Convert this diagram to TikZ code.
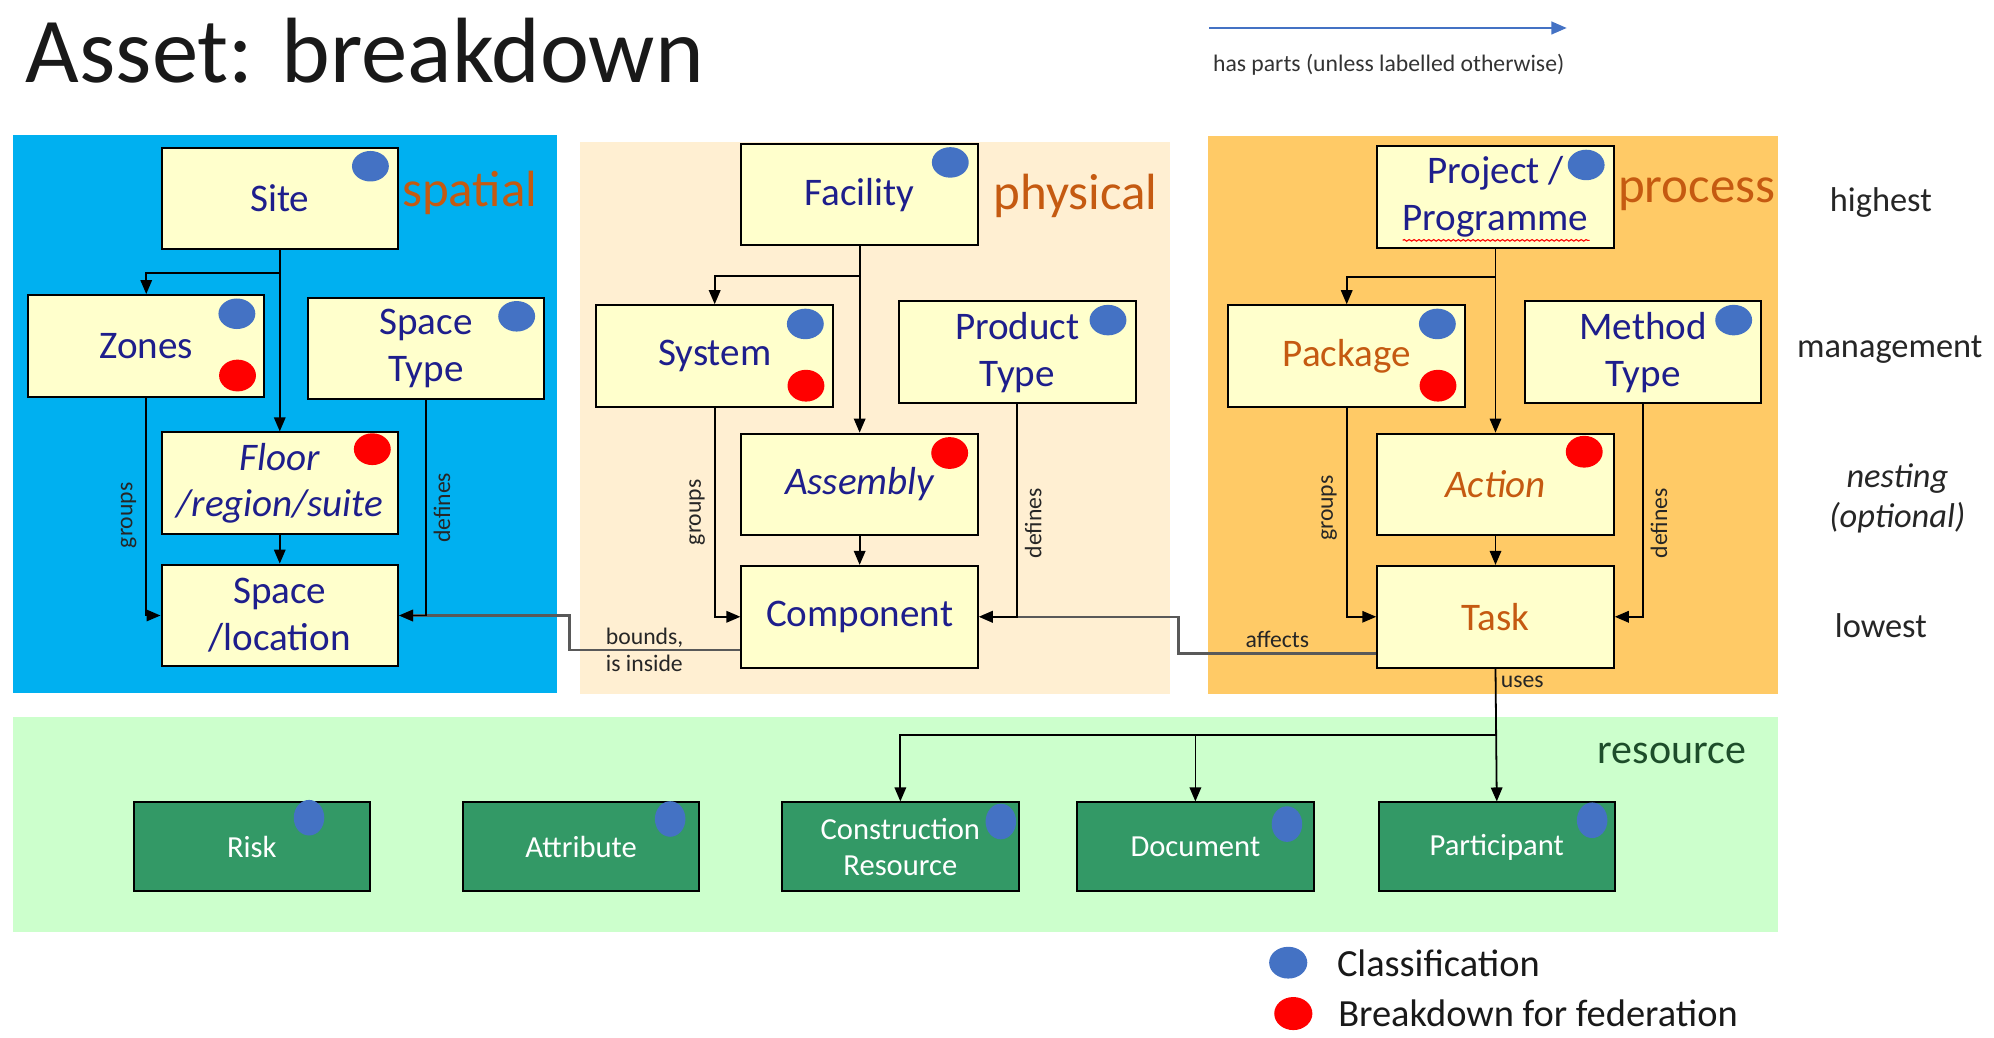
\documentclass[tikz,border=0pt]{standalone}
\usepackage{fontspec}
\setmainfont{Carlito}
\usetikzlibrary{arrows.meta,decorations.pathmorphing}

\definecolor{spatialbg}{HTML}{00B0F0}
\definecolor{physicalbg}{HTML}{FFEFD2}
\definecolor{processbg}{HTML}{FFCA66}
\definecolor{resourcebg}{HTML}{CCFFCC}
\definecolor{boxyellow}{HTML}{FFFFCC}
\definecolor{resgreen}{HTML}{339966}
\definecolor{labelblue}{HTML}{1E1E8C}
\definecolor{accentorange}{HTML}{C55A11}
\definecolor{darkgreen}{HTML}{1D4D2A}
\definecolor{clsblue}{HTML}{4472C4}
\definecolor{fedred}{HTML}{FF0000}
\definecolor{linkgray}{HTML}{595959}

\tikzset{
  ybox/.style={draw=black, line width=0.9pt, fill=boxyellow, minimum width=3.72cm,
    minimum height=1.6cm, align=center, text=labelblue, inner sep=1pt,
    font=\fontsize{17.5}{21}\selectfont},
  yboxit/.style={ybox, font=\fontsize{17.5}{21}\selectfont\itshape},
  rbox/.style={draw=black, line width=0.9pt, fill=resgreen, minimum width=3.72cm,
    minimum height=1.4cm, align=center, text=white, inner sep=1pt,
    font=\fontsize{13.7}{16}\selectfont},
  haspart/.style={draw=black, line width=0.8pt, -{Triangle[length=0.22cm,width=0.18cm]}},
  crosslink/.style={draw=linkgray, line width=1.1pt, -{Triangle[length=0.22cm,width=0.18cm]}},
  lbl/.style={font=\fontsize{10.6}{12.5}\selectfont, text=black!85, inner sep=2pt},
  paneltitle/.style={font=\fontsize{22.8}{27}\selectfont, text=accentorange, anchor=base west, inner sep=0pt},
  levellbl/.style={font=\fontsize{15.4}{18.2}\selectfont, text=black!85, inner sep=0pt, align=center},
}

% classification / federation markers on a box
\newcommand{\clsdot}[1]{\fill[clsblue] ([shift={(-0.45cm,-0.31cm)}]#1.north east) ellipse [x radius=0.29cm, y radius=0.24cm];}
\newcommand{\feddot}[1]{\fill[fedred] ([shift={(-0.44cm,0.35cm)}]#1.south east) ellipse [x radius=0.29cm, y radius=0.25cm];}

\begin{document}
\begin{tikzpicture}[x=0.02cm, y=-0.02cm]
\useasboundingbox (0,0) rectangle (1568,816);

% panels
\fill[spatialbg] (10,106) rectangle (438,545);
\fill[physicalbg] (456,112) rectangle (920,546);
\fill[processbg] (950,107) rectangle (1398,546);
\fill[resourcebg] (10,564) rectangle (1398,733);

% title and legend
\node[anchor=base west, inner sep=0pt, text=black!90, font=\fontsize{41.5}{48}\selectfont] (title) at (20,65) {Asset: breakdown};
\coordinate (legA) at (951,22);
\coordinate (legB) at (1232,22);
\draw[clsblue, line width=0.8pt, -{Triangle[length=0.24cm,width=0.2cm]}] (legA) -- (legB);
\node[lbl, anchor=base, text=black!80] (legtxt) at (1092,56) {has parts (unless labelled otherwise)};

% spatial
\node[ybox] (site) at (220,156) {Site};
\node[ybox] (zones) at (115,272) {Zones};
\node[ybox] (spacetype) at (335,274) {Space\\Type};
\node[yboxit] (floor) at (220,380) {Floor\\/region/suite};
\node[ybox] (space) at (220,484) {Space\\/location};
\node[paneltitle] (spatial) at (316,162) {spatial};
\clsdot{site}
\clsdot{zones} \feddot{zones}
\clsdot{spacetype}

% physical
\node[ybox] (facility) at (676,153) {Facility};
\node[ybox] (system) at (562,280) {System};
\node[ybox] (ptype) at (800,277) {Product\\Type};
\node[yboxit] (assembly) at (676,381) {Assembly};
\node[ybox] (comp) at (676,485) {Component};
\node[paneltitle] (physical) at (781,165) {physical};
\clsdot{facility}
\clsdot{system} \feddot{system}
\clsdot{ptype}

% process
\node[ybox] (project) at (1176,155) {Project /\\Programme};
\node[ybox, text=accentorange] (package) at (1059,280) {Package};
\node[ybox] (mtype) at (1292,277) {Method\\Type};
\node[yboxit, text=accentorange] (action) at (1176,381) {Action};
\node[ybox, text=accentorange] (task) at (1176,485) {Task};
\node[paneltitle] (process) at (1272,159) {process};
\clsdot{project}
\clsdot{package} \feddot{package}
\clsdot{mtype}
\draw[fedred, line width=0.5pt, decorate, decoration={snake, amplitude=0.35pt, segment length=2.2pt}]
  ([shift={(-1.46cm,-0.68cm)}]project.center) -- ([shift={(1.48cm,-0.68cm)}]project.center);

% the red markers of the nesting boxes
\fill[fedred] ([shift={(-0.42cm,-0.28cm)}]floor.north east) ellipse [x radius=0.29cm, y radius=0.25cm];
\fill[fedred] ([shift={(-0.46cm,-0.32cm)}]assembly.north east) ellipse [x radius=0.29cm, y radius=0.25cm];
\fill[fedred] ([shift={(-0.48cm,-0.30cm)}]action.north east) ellipse [x radius=0.29cm, y radius=0.25cm];

% resources
\node[anchor=base west, inner sep=0pt, text=darkgreen, font=\fontsize{18.8}{22}\selectfont] (resource) at (1256,600) {resource};
\foreach \n/\x/\t/\dx/\dy in {risk/198/Risk/243/643, attr/457/Attribute/527/644,
    cres/708/{Construction\\Resource}/787/646, doc/940/Document/1012/648,
    part/1177/Participant/1252/645}{
  \node[rbox] (\n) at (\x,666) {\t};
  \fill[clsblue] (\dx,\dy) ellipse [x radius=0.24cm, y radius=0.28cm];
}

% level labels
\node[levellbl, anchor=base] (highest) at (1479,166) {highest};
\node[levellbl, anchor=base] (management) at (1486,281) {management};
\node[levellbl, font=\fontsize{15.4}{18.2}\selectfont\itshape] (nesting) at (1492,392) {nesting\\(optional)};
\node[levellbl, anchor=base] (lowest) at (1479,501) {lowest};

% legend
\fill[clsblue] (1013,757) ellipse [x radius=0.3cm, y radius=0.25cm];
\node[anchor=base west, inner sep=0pt, text=black!90, font=\fontsize{17.2}{20}\selectfont] (cls) at (1051,768) {Classification};
\fill[fedred] (1017,797) ellipse [x radius=0.3cm, y radius=0.26cm];
\node[anchor=base west, inner sep=0pt, text=black!90, font=\fontsize{17.2}{20}\selectfont] (fed) at (1052,807) {Breakdown for federation};

% cross links
\draw[crosslink] ([yshift=-0.52cm]comp.west) -| node[lbl, pos=0.28, align=left]{bounds,\\is inside}
  ([xshift=2.68cm]space.east) -- (space.east);
\draw[crosslink] ([yshift=-0.58cm]task.west) -| node[lbl, pos=0.25, above]{affects}
  ([xshift=3.14cm]comp.east) -- (comp.east);

% has parts
\draw[haspart] (site) -- (floor);
\draw[haspart] ([yshift=-0.36cm]site.south) -| (zones.north);
\draw[haspart] (floor) -- (space);
\draw[haspart] (zones.south) |- node[lbl, rotate=90, pos=0.27, above, inner sep=4pt]{groups} (space.west);
\draw[haspart] (spacetype.south) |- node[lbl, rotate=90, pos=0.25, below, inner sep=3pt]{defines} (space.east);

\draw[haspart] (facility) -- (assembly);
\draw[haspart] ([yshift=-0.46cm]facility.south) -| (system.north);
\draw[haspart] (assembly) -- (comp);
\draw[haspart] (system.south) |- node[lbl, rotate=90, pos=0.25, above, inner sep=4pt]{groups} (comp.west);
\draw[haspart] (ptype.south) |- node[lbl, rotate=90, pos=0.28, below, inner sep=3pt]{defines} (comp.east);

\draw[haspart] (project) -- (action);
\draw[haspart] ([yshift=-0.44cm]project.south) -| (package.north);
\draw[haspart] (action) -- (task);
\draw[haspart] (package.south) |- node[lbl, rotate=90, pos=0.24, above, inner sep=4pt]{groups} (task.west);
\draw[haspart] (mtype.south) |- node[lbl, rotate=90, pos=0.28, below, inner sep=3pt]{defines} (task.east);

% uses
\draw[haspart] (task.south) -- node[lbl, pos=0.2, right]{uses} ++(0,52) -| (cres.north);
\draw[haspart] ([yshift=-1.04cm]task.south) -| (doc.north);
\draw[haspart] (task.south) -- (part.north);

\end{tikzpicture}
\end{document}
